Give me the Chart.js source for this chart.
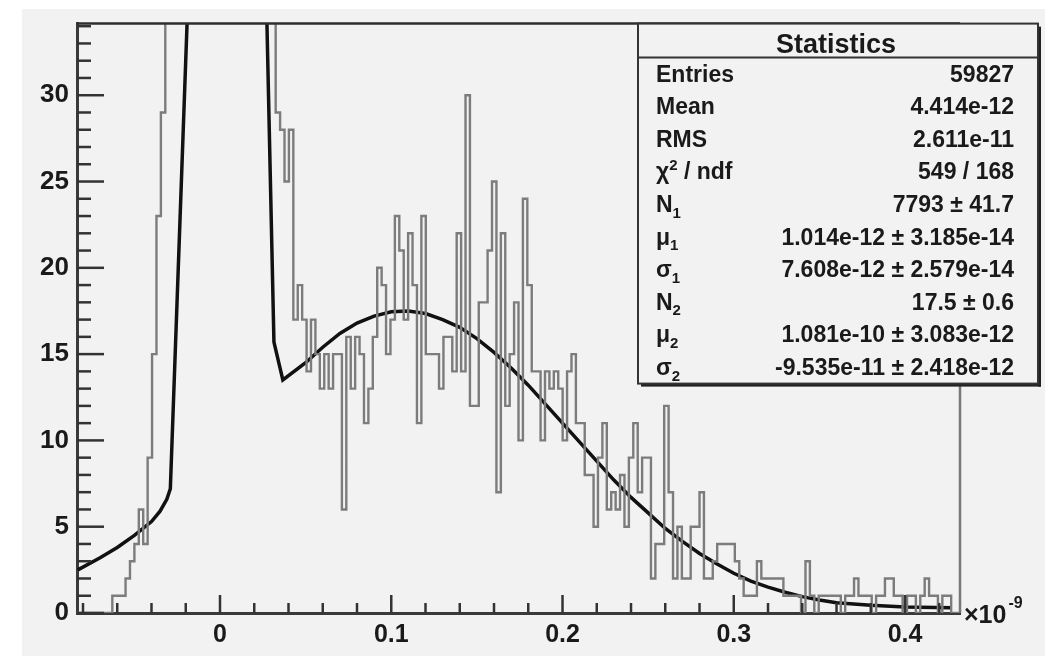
<!DOCTYPE html>
<html>
<head>
<meta charset="utf-8">
<script src="https://cdn.jsdelivr.net/npm/chart.js@4.4.1/dist/chart.umd.min.js"></script>
<style>
  html,body{margin:0;padding:0;background:#fff}
  canvas{display:block}
</style>
</head>
<body>
<canvas id="c" width="1052" height="656"></canvas>
<script>
/* Time-difference histogram with double gaussian fit, drawn ROOT style */

/* ── axis ranges & ticks (x in units of 1e-9) ── */
var X_MIN = -0.0835, X_MAX = 0.4321;
var Y_MIN = 0, Y_MAX = 34.15;
var xTickValues = [0, 0.1, 0.2, 0.3, 0.4];
var xTickLabels = ['0', '0.1', '0.2', '0.3', '0.4'];
var yTickValues = [0, 5, 10, 15, 20, 25, 30];
var yTickLabels = ['0', '5', '10', '15', '20', '25', '30'];
var xMinorStep = 0.02, yMinorStep = 1;
var xExponent = '-9';

/* ── histogram: 200 bins, counts ── */
var binLow = -0.0835, binWidth = 0.002578;
var counts = [
  0,0,0,0,0,0,0,0,0,1, 1,1,2,3,4,6,4,9,15,23,
  29,45,70,110,180,300,480,760,1150,1650, 2200,2700,3100,3300,3250,2950,2500,1950,1400,950,
  600,360,210,120,70,42,29,28,25,28, 17,19,17,14,17,15,13,15,13,15,
  15,6,16,13,16,15,11,13,16,20, 19,15,17,23,21,17,22,19,11,23,
  15,15,15,13,16,16,14,22,14,30, 12,12,18,18,21,25,7,22,12,15,
  18,10,24,19,14,14,10,14,13,14, 13,10,14,15,11,11,8,8,5,9,
  11,6,7,6,8,5,9,11,7,9, 9,2,4,4,12,7,2,5,2,2,
  5,5,7,2,2,3,4,4,4,4, 3,2,1,1,1,3,2,2,2,2,
  2,1,1,1,1,0,3,1,0,1, 1,1,1,1,0,1,1,2,1,1,
  1,0,1,1,2,2,1,1,0,1, 1,0,1,2,1,1,0,1,1,0
];

/* ── fit curve (peak goes far off the top) ── */
var fitX = [-0.083,-0.07,-0.06,-0.05,-0.04,-0.035,-0.031,-0.029,0.0097,0.0315,0.0367,
            0.05,0.06,0.07,0.08,0.09,0.10,0.11,0.12,0.13,0.14,0.15,0.16,0.17,0.18,0.19,
            0.20,0.21,0.22,0.23,0.24,0.25,0.26,0.27,0.28,0.29,0.30,0.31,0.32,0.33,0.34,
            0.35,0.36,0.38,0.40,0.427];
var fitY = [2.5,3.2,3.8,4.5,5.3,5.9,6.6,7.2,114,15.7,13.5,
            14.5,15.4,16.2,16.8,17.2,17.45,17.5,17.35,17.0,16.55,15.9,15.1,14.2,13.2,12.1,
            11.0,9.9,8.8,7.7,6.7,5.8,4.9,4.15,3.45,2.85,2.3,1.85,1.5,1.2,0.95,
            0.75,0.6,0.45,0.35,0.3];

/* ── statistics box ── */
var statTitle = 'Statistics';
var statNames  = ['Entries','Mean','RMS','χ^2 / ndf','N_1','μ_1','σ_1','N_2','μ_2','σ_2'];
var statValues = ['59827','4.414e-12','2.611e-11','549 / 168','7793 ± 41.7',
                  '1.014e-12 ± 3.185e-14','7.608e-12 ± 2.579e-14','17.5 ± 0.6',
                  '1.081e-10 ± 3.083e-12','-9.535e-11 ± 2.418e-12'];

var FONT = '"Liberation Sans", Arial, Helvetica, sans-serif';
var PAD_BG = '#f2f2f2';

/* build step outline: one point per bin low edge, plus closing edge */
var histPoints = counts.map(function(c, i){ return {x: binLow + i*binWidth, y: c}; });
histPoints.push({x: binLow + counts.length*binWidth, y: counts[counts.length-1]});
var fitPoints = fitX.map(function(x, i){ return {x: x, y: fitY[i]}; });

/* draw text where "^c" is superscript and "_c" subscript */
function richParts(text){
  var parts = [], i = 0;
  while(i < text.length){
    var ch = text[i];
    if((ch === '^' || ch === '_') && i+1 < text.length){
      parts.push({t: text[i+1], kind: ch}); i += 2;
    } else {
      if(parts.length && !parts[parts.length-1].kind) parts[parts.length-1].t += ch;
      else parts.push({t: ch, kind: null});
      i++;
    }
  }
  return parts;
}
function drawRich(ctx, text, x, y, align, size){
  var parts = richParts(text), small = Math.round(size*0.66), total = 0;
  parts.forEach(function(p){
    ctx.font = 'bold ' + (p.kind ? small : size) + 'px ' + FONT;
    p.w = ctx.measureText(p.t).width; total += p.w;
  });
  var cx = align === 'right' ? x - total : x;
  ctx.textAlign = 'left'; ctx.textBaseline = 'alphabetic';
  parts.forEach(function(p){
    ctx.font = 'bold ' + (p.kind ? small : size) + 'px ' + FONT;
    var dy = p.kind === '^' ? -size*0.42 : p.kind === '_' ? size*0.24 : 0;
    ctx.fillText(p.t, cx, y + dy);
    cx += p.w;
  });
}

function seg(ctx, x1, y1, x2, y2){
  ctx.beginPath(); ctx.moveTo(x1, y1); ctx.lineTo(x2, y2); ctx.stroke();
}

/* ── pad background ── */
var padPlugin = {
  id: 'pad',
  beforeDraw: function(chart){
    var ctx = chart.ctx;
    ctx.save();
    ctx.fillStyle = '#fff';
    ctx.fillRect(0, 0, chart.width, chart.height);
    ctx.fillStyle = PAD_BG;
    ctx.fillRect(22, 9, 1023, chart.height - 9);
    ctx.restore();
  }
};

/* ── frame, inward ticks, exponent, stats box ── */
var rootPlugin = {
  id: 'rootFrame',
  afterDatasetsDraw: function(chart){
    var ctx = chart.ctx, a = chart.chartArea, xs = chart.scales.x, ys = chart.scales.y;
    ctx.save();
    ctx.lineCap = 'butt';

    // frame top + right
    ctx.strokeStyle = '#2e2e2e'; ctx.lineWidth = 2.5;
    seg(ctx, a.left, a.top, a.right, a.top);
    ctx.strokeStyle = '#777'; ctx.lineWidth = 2.5;
    seg(ctx, a.right, a.top, a.right, a.bottom);

    // y ticks (inward)
    ctx.strokeStyle = '#333'; ctx.lineWidth = 2.5;
    var nY = Math.floor((Y_MAX - Y_MIN)/yMinorStep);
    for(var k = 0; k <= nY; k++){
      var v = Y_MIN + k*yMinorStep, py = ys.getPixelForValue(v);
      var major = yTickValues.indexOf(v) >= 0;
      seg(ctx, a.left, py, a.left + (major ? 27 : 14), py);
    }
    // x ticks (inward)
    var k0 = Math.ceil(X_MIN/xMinorStep - 1e-9), k1 = Math.floor(X_MAX/xMinorStep + 1e-9);
    for(var j = k0; j <= k1; j++){
      var px = xs.getPixelForValue(j*xMinorStep);
      var isMajor = j % 5 === 0;
      seg(ctx, px, a.bottom, px, a.bottom - (isMajor ? 18 : 10));
    }

    // ×10^-9
    ctx.fillStyle = '#1a1a1a';
    drawRich(ctx, '×10', a.right + 4, a.bottom + 10, 'left', 25);
    ctx.font = 'bold 25px ' + FONT;
    var w10 = ctx.measureText('×10').width;
    ctx.font = 'bold 16px ' + FONT;
    ctx.fillText(xExponent, a.right + 6 + w10, a.bottom - 5);

    // stats box
    var bx = 638, by = a.top, bw = 400, bh = 360;
    ctx.fillStyle = PAD_BG;
    ctx.fillRect(bx, by, bw, bh);
    ctx.fillStyle = '#222';
    ctx.fillRect(bx + 3, by + bh, bw, 3);      // shadow bottom
    ctx.fillRect(bx + bw, by + 3, 3, bh);      // shadow right
    ctx.strokeStyle = '#333'; ctx.lineWidth = 2;
    ctx.strokeRect(bx, by, bw, bh);
    seg(ctx, bx, by + 34, bx + bw, by + 34);

    ctx.fillStyle = '#1a1a1a';
    ctx.font = 'bold 27px ' + FONT;
    ctx.textAlign = 'center'; ctx.textBaseline = 'alphabetic';
    ctx.fillText(statTitle, 836, by + 29);

    var rowH = 32.6, row0 = by + 58;
    statNames.forEach(function(n, i){
      var yb = row0 + i*rowH;
      drawRich(ctx, n, bx + 18, yb, 'left', 23);
      drawRich(ctx, statValues[i], bx + bw - 24, yb, 'right', 23);
    });
    ctx.restore();
  }
};

var ctx = document.getElementById('c').getContext('2d');
var chart = new Chart(ctx, {
  type: 'line',
  data: {
    datasets: [
      { label: 'hist', data: histPoints, stepped: 'after', borderColor: '#7c7c7c',
        borderWidth: 2.4, pointRadius: 0, fill: false },
      { label: 'fit', data: fitPoints, borderColor: '#111', borderWidth: 3.5,
        pointRadius: 0, tension: 0, fill: false }
    ]
  },
  options: {
    responsive: false, animation: false, devicePixelRatio: 1,
    layout: { padding: { left: 0, top: 18, right: 92, bottom: 0 } },
    plugins: { legend: { display: false }, tooltip: { enabled: false } },
    scales: {
      x: {
        type: 'linear', min: X_MIN, max: X_MAX,
        afterBuildTicks: function(s){ s.ticks = xTickValues.map(function(v){ return {value: v}; }); },
        afterFit: function(s){ s.height = 43; },
        ticks: {
          autoSkip: false, maxRotation: 0, padding: 7, color: '#1a1a1a',
          font: { family: FONT, size: 25, weight: 'bold' },
          callback: function(v, i){ return xTickLabels[i]; }
        },
        grid: { display: false, drawTicks: false },
        border: { display: true, color: '#3a3a3a', width: 3 }
      },
      y: {
        type: 'linear', min: Y_MIN, max: Y_MAX,
        afterBuildTicks: function(s){ s.ticks = yTickValues.map(function(v){ return {value: v}; }); },
        afterFit: function(s){ s.width = 77; },
        ticks: {
          autoSkip: false, padding: 8, color: '#1a1a1a',
          font: { family: FONT, size: 26, weight: 'bold' },
          callback: function(v, i){ return yTickLabels[i]; }
        },
        grid: { display: false, drawTicks: false },
        border: { display: true, color: '#3a3a3a', width: 3 }
      }
    }
  },
  plugins: [padPlugin, rootPlugin]
});
</script>
</body>
</html>
